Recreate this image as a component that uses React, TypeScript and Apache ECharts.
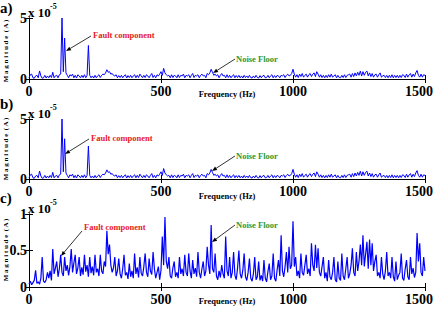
import React, { useEffect, useRef } from "react";
import * as echarts from "echarts";

// Spectrum magnitudes in units of 1e-5 A, sampled every FREQ_STEP Hz (0..1500 Hz)
const FREQ_STEP = 5;

const magA = [
  0.1, 0.35, 0.4, 0.1, 0.06, 0.25, 0.3, 0.1, 0.66, 0.25,
  0.06, 0.1, 0.3, 0.08, 0.25, 0.1, 0.3, 0.12, 0.55, 0.1,
  0.25, 0.3, 0.1, 0.35, 0.4, 5.0, 0.6, 3.35, 0.5, 0.3,
  0.1, 0.35, 0.25, 0.4, 0.1, 0.3, 0.08, 0.35, 0.25, 0.1,
  0.3, 0.12, 0.35, 0.1, 0.3, 2.75, 0.3, 0.1, 0.25, 0.08,
  0.3, 0.1, 0.25, 0.35, 0.12, 0.3, 0.4, 0.35, 0.5, 0.76,
  0.55, 0.6, 0.4, 0.45, 0.3, 0.25, 0.35, 0.1, 0.28, 0.12,
  0.3, 0.1, 0.25, 0.35, 0.08, 0.28, 0.12, 0.3, 0.1, 0.25,
  0.35, 0.1, 0.3, 0.12, 0.4, 0.25, 0.1, 0.3, 0.12, 0.35,
  0.25, 0.1, 0.3, 0.45, 0.12, 0.3, 0.1, 0.35, 0.25, 0.4,
  0.6, 0.3, 0.87, 0.5, 0.35, 0.25, 0.3, 0.1, 0.35, 0.12,
  0.3, 0.25, 0.1, 0.35, 0.12, 0.3, 0.25, 0.4, 0.1, 0.3,
  0.25, 0.35, 0.1, 0.3, 0.45, 0.12, 0.3, 0.25, 0.35, 0.1,
  0.3, 0.4, 0.25, 0.3, 0.1, 0.45, 0.35, 0.5, 0.8, 0.55,
  0.3, 0.4, 0.25, 0.35, 0.1, 0.3, 0.45, 0.25, 0.3, 0.1,
  0.35, 0.12, 0.3, 0.1, 0.25, 0.35, 0.1, 0.28, 0.12, 0.3,
  0.1, 0.25, 0.08, 0.3, 0.12, 0.25, 0.1, 0.3, 0.12, 0.08,
  0.25, 0.1, 0.3, 0.12, 0.08, 0.28, 0.1, 0.25, 0.3, 0.1,
  0.12, 0.3, 0.1, 0.25, 0.35, 0.1, 0.28, 0.12, 0.3, 0.25,
  0.1, 0.3, 0.25, 0.35, 0.12, 0.3, 0.4, 0.25, 0.3, 0.45,
  0.8, 0.4, 0.15, 0.35, 0.12, 0.4, 0.2, 0.45, 0.15, 0.3,
  0.4, 0.15, 0.35, 0.45, 0.2, 0.4, 0.5, 0.2, 0.6, 0.4,
  0.15, 0.35, 0.12, 0.3, 0.1, 0.3, 0.12, 0.35, 0.15, 0.4,
  0.15, 0.25, 0.35, 0.1, 0.3, 0.12, 0.1, 0.3, 0.12, 0.35,
  0.12, 0.3, 0.35, 0.4, 0.15, 0.45, 0.2, 0.5, 0.25, 0.55,
  0.3, 0.65, 0.25, 0.6, 0.3, 0.55, 0.65, 0.25, 0.5, 0.2,
  0.45, 0.15, 0.35, 0.4, 0.15, 0.35, 0.5, 0.15, 0.25, 0.3,
  0.12, 0.3, 0.1, 0.3, 0.12, 0.35, 0.1, 0.3, 0.12, 0.3,
  0.1, 0.3, 0.12, 0.35, 0.3, 0.12, 0.4, 0.15, 0.35, 0.45,
  0.15, 0.4, 0.2, 0.5, 0.7, 0.3, 0.15, 0.4, 0.15, 0.35,
  0.3,
];

// Panel (b) shows the same spectrum as panel (a)
const magB = magA;

const magC = [
  0.04, 0.08, 0.03, 0.06, 0.09, 0.23, 0.05, 0.07, 0.04, 0.12,
  0.41, 0.08, 0.06, 0.1, 0.2, 0.12, 0.22, 0.09, 0.52, 0.18,
  0.26, 0.35, 0.14, 0.25, 0.44, 0.2, 0.15, 0.41, 0.22, 0.3,
  0.16, 0.28, 0.52, 0.2, 0.33, 0.44, 0.18, 0.26, 0.41, 0.15,
  0.27, 0.17, 0.44, 0.21, 0.3, 0.14, 0.41, 0.19, 0.28, 0.16,
  0.44, 0.2, 0.25, 0.15, 0.44, 0.22, 0.18, 0.35, 0.28, 0.77,
  0.45, 0.58, 0.3, 0.2, 0.26, 0.41, 0.15, 0.22, 0.39, 0.18,
  0.12, 0.25, 0.44, 0.16, 0.2, 0.11, 0.32, 0.14, 0.22, 0.12,
  0.46, 0.18, 0.27, 0.13, 0.41, 0.19, 0.15, 0.28, 0.46, 0.2,
  0.14, 0.39, 0.22, 0.17, 0.48, 0.25, 0.12, 0.2, 0.28, 0.1,
  0.23, 0.69, 0.3, 0.96, 0.35, 0.25, 0.41, 0.15, 0.12, 0.26,
  0.35, 0.14, 0.2, 0.12, 0.41, 0.18, 0.25, 0.15, 0.44, 0.2,
  0.15, 0.46, 0.22, 0.12, 0.37, 0.18, 0.26, 0.14, 0.48, 0.2,
  0.12, 0.25, 0.35, 0.15, 0.22, 0.55, 0.3, 0.18, 0.85, 0.25,
  0.2, 0.46, 0.15, 0.1, 0.22, 0.13, 0.3, 0.18, 0.12, 0.69,
  0.22, 0.15, 0.41, 0.12, 0.2, 0.48, 0.16, 0.1, 0.26, 0.5,
  0.18, 0.12, 0.23, 0.46, 0.14, 0.09, 0.2, 0.39, 0.12, 0.08,
  0.18, 0.41, 0.1, 0.14, 0.35, 0.09, 0.16, 0.08, 0.37, 0.12,
  0.07, 0.21, 0.32, 0.1, 0.15, 0.46, 0.12, 0.08, 0.24, 0.37,
  0.15, 0.71, 0.22, 0.14, 0.28, 0.48, 0.2, 0.55, 0.25, 0.3,
  0.9, 0.28, 0.41, 0.15, 0.22, 0.12, 0.46, 0.2, 0.16, 0.3,
  0.44, 0.18, 0.25, 0.15, 0.6, 0.3, 0.22, 0.58, 0.26, 0.53,
  0.2, 0.15, 0.28, 0.41, 0.12, 0.2, 0.08, 0.37, 0.14, 0.1,
  0.2, 0.41, 0.1, 0.07, 0.35, 0.12, 0.09, 0.46, 0.15, 0.1,
  0.25, 0.41, 0.12, 0.18, 0.3, 0.53, 0.2, 0.15, 0.48, 0.22,
  0.35, 0.58, 0.3, 0.71, 0.28, 0.45, 0.62, 0.25, 0.65, 0.3,
  0.6, 0.22, 0.35, 0.44, 0.15, 0.2, 0.12, 0.41, 0.18, 0.1,
  0.22, 0.48, 0.15, 0.2, 0.12, 0.41, 0.14, 0.08, 0.35, 0.1,
  0.16, 0.2, 0.46, 0.12, 0.09, 0.25, 0.37, 0.14, 0.1, 0.41,
  0.18, 0.26, 0.13, 0.2, 0.74, 0.35, 0.6, 0.2, 0.15, 0.41,
  0.22,
];

const xTicks = [0, 500, 1000, 1500];
const panelLabels = ["a)", "b)", "c)"];
const yMax = [5, 5, 1];
const yInterval = [5, 5, 0.5];
const annotFault = "Fault component";
const annotNoise = "Noise Floor";
const yTitle = "M a g n i t u d e  ( A )";
const xTitle = "Frequency (Hz)";

const FONT = "'Liberation Serif', 'Times New Roman', serif";

const grids = [
  { left: 29, top: 18, width: 396, height: 61 },
  { left: 29, top: 119, width: 396, height: 60 },
  { left: 29, top: 214, width: 396, height: 73 },
];

function toPairs(m: number[]) {
  return m.map((v, i) => [i * FREQ_STEP, v]);
}

function arrow(x1: number, y1: number, x2: number, y2: number) {
  const dx = x2 - x1;
  const dy = y2 - y1;
  const L = Math.hypot(dx, dy);
  const ux = dx / L;
  const uy = dy / L;
  const hl = 5;
  const hw = 2;
  const bx = x2 - ux * hl;
  const by = y2 - uy * hl;
  return [
    {
      type: "line",
      shape: { x1, y1, x2: bx, y2: by },
      style: { stroke: "#000", lineWidth: 0.8 },
      silent: true,
    },
    {
      type: "polygon",
      shape: {
        points: [
          [x2, y2],
          [bx - uy * hw, by + ux * hw],
          [bx + uy * hw, by - ux * hw],
        ],
      },
      style: { fill: "#000" },
      silent: true,
    },
  ];
}

function txt(
  text: string,
  x: number,
  y: number,
  size: number,
  fill: string,
  align: string = "center",
  rotation: number = 0
) {
  return {
    type: "text",
    x,
    y,
    rotation,
    silent: true,
    style: {
      text,
      fill,
      fontSize: size,
      fontWeight: "bold",
      fontFamily: FONT,
      align,
      verticalAlign: "middle",
      textAlign: align,
      textVerticalAlign: "middle",
    },
  };
}

export default function App() {
  const ref = useRef<HTMLDivElement>(null);

  useEffect(() => {
    if (!ref.current) return;
    const chart = echarts.init(ref.current, undefined, { renderer: "svg" });
    const mags = [magA, magB, magC];
    const axisLine = { show: true, lineStyle: { color: "#000", width: 1 } };
    const labelStyle = {
      fontFamily: FONT,
      fontWeight: "bold" as const,
      fontSize: 14,
      color: "#000",
    };
    const xMax = xTicks[xTicks.length - 1];

    const xAxis: any[] = [];
    const yAxis: any[] = [];
    const series: any[] = [];
    grids.forEach((g, i) => {
      xAxis.push({
        type: "value",
        gridIndex: i,
        min: xTicks[0],
        max: xMax,
        interval: xTicks[1] - xTicks[0],
        position: "bottom",
        axisLine,
        axisTick: { show: true, inside: true, length: 4, lineStyle: { color: "#000" } },
        axisLabel: {
          ...labelStyle,
          margin: 5,
          formatter: (v: number) => (v === xMax ? "{m|" + v + "}" : String(v)),
          rich: {
            m: {
              fontFamily: FONT,
              fontWeight: "bold",
              fontSize: 14,
              color: "#000",
              padding: [0, 12, 0, 0],
            },
          },
        },
        splitLine: { show: false },
      });
      xAxis.push({
        type: "value",
        gridIndex: i,
        min: xTicks[0],
        max: xMax,
        interval: xTicks[1] - xTicks[0],
        position: "top",
        axisLine,
        axisTick: { show: true, inside: true, length: 4, lineStyle: { color: "#000" } },
        axisLabel: { show: false },
        splitLine: { show: false },
      });
      yAxis.push({
        type: "value",
        gridIndex: i,
        min: 0,
        max: yMax[i],
        interval: yInterval[i],
        position: "left",
        axisLine,
        axisTick: { show: true, inside: true, length: 4, lineStyle: { color: "#000" } },
        axisLabel: { ...labelStyle, margin: 2, formatter: (v: number) => String(v) },
        splitLine: { show: false },
      });
      yAxis.push({
        type: "value",
        gridIndex: i,
        min: 0,
        max: yMax[i],
        interval: yInterval[i],
        position: "right",
        axisLine,
        axisTick: { show: true, inside: true, length: 4, lineStyle: { color: "#000" } },
        axisLabel: { show: false },
        splitLine: { show: false },
      });
      series.push({
        type: "line",
        xAxisIndex: i * 2,
        yAxisIndex: i * 2,
        data: toPairs(mags[i]),
        showSymbol: false,
        symbol: "none",
        lineStyle: { color: "#0000ff", width: i === 2 ? 1.2 : 1 },
        silent: true,
      });
    });

    const red = "#e8202a";
    const green = "#2a9a35";
    const graphic: any[] = [
      // panel labels
      txt(panelLabels[0], 0, 8, 15, "#000", "left"),
      txt(panelLabels[1], 0, 104, 15, "#000", "left"),
      txt(panelLabels[2], 0, 198, 15, "#000", "left"),
      // x 10^-5
      txt("x 10", 28, 12, 13, "#000", "left"),
      txt("-5", 50, 6, 8, "#000", "left"),
      txt("x 10", 28, 113, 13, "#000", "left"),
      txt("-5", 50, 107, 8, "#000", "left"),
      txt("x 10", 28, 208, 13, "#000", "left"),
      txt("-5", 50, 202, 8, "#000", "left"),
      // y titles
      txt(yTitle, 6, 51, 7, "#000", "center", Math.PI / 2),
      txt(yTitle, 6, 149, 7, "#000", "center", Math.PI / 2),
      txt(yTitle, 6, 250, 7, "#000", "center", Math.PI / 2),
      // x titles
      txt(xTitle, 227, 94, 8.5, "#000"),
      txt(xTitle, 227, 196, 8.5, "#000"),
      txt(xTitle, 227, 301, 8.5, "#000"),
      // annotations panel a
      txt(annotFault, 93, 35, 8.5, red, "left"),
      ...arrow(91, 36, 66, 51),
      txt(annotNoise, 236, 59, 8.5, green, "left"),
      ...arrow(235, 59, 213, 73),
      // panel b
      txt(annotFault, 91, 138, 8.5, red, "left"),
      ...arrow(89, 139, 65, 154),
      txt(annotNoise, 236, 156, 8.5, green, "left"),
      ...arrow(235, 156, 212, 171),
      // panel c
      txt(annotFault, 84, 227, 8.5, red, "left"),
      ...arrow(82, 231, 61, 256),
      txt(annotNoise, 236, 225, 8.5, green, "left"),
      ...arrow(235, 225, 212, 242),
    ];

    chart.setOption({
      animation: false,
      backgroundColor: "#fff",
      grid: grids.map((g) => ({ ...g, containLabel: false, outerBoundsMode: "none" })),
      xAxis,
      yAxis,
      series,
      graphic,
    });

    return () => {
      chart.dispose();
    };
  }, []);

  return (
    <div
      ref={ref}
      style={{
        position: "fixed",
        left: 0,
        top: 0,
        width: 434,
        height: 310,
        background: "#fff",
      }}
    />
  );
}
